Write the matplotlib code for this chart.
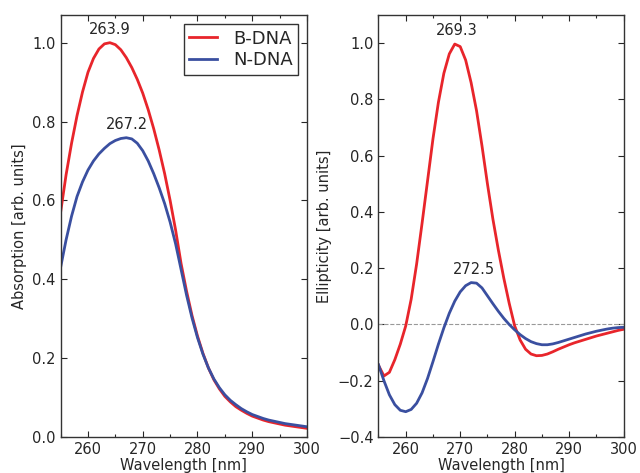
import numpy as np
import matplotlib
matplotlib.use("Agg")
import matplotlib.pyplot as plt

# wavelength grid [nm]
wl = np.arange(255, 301)

# absorption
abs_b = [0.57, 0.665, 0.745, 0.815, 0.875, 0.925, 0.96, 0.984, 0.997, 1.0,
         0.995, 0.982, 0.962, 0.937, 0.907, 0.872, 0.83, 0.782, 0.728, 0.668,
         0.60, 0.525, 0.44, 0.37, 0.308, 0.256, 0.212, 0.175, 0.145, 0.122,
         0.103, 0.089, 0.077, 0.068, 0.060, 0.053, 0.048, 0.043, 0.039, 0.036,
         0.033, 0.030, 0.028, 0.026, 0.024, 0.022]
abs_n = [0.43, 0.50, 0.56, 0.61, 0.647, 0.677, 0.70, 0.718, 0.732, 0.744,
         0.752, 0.757, 0.759, 0.756, 0.745, 0.726, 0.70, 0.668, 0.632, 0.592,
         0.545, 0.49, 0.425, 0.36, 0.302, 0.252, 0.21, 0.175, 0.147, 0.125,
         0.107, 0.093, 0.082, 0.072, 0.064, 0.057, 0.052, 0.047, 0.043, 0.040,
         0.037, 0.034, 0.032, 0.030, 0.028, 0.026]

# circular dichroism (ellipticity)
cd_b = [-0.145, -0.183, -0.17, -0.125, -0.07, -0.005, 0.09, 0.215, 0.36, 0.51,
        0.66, 0.79, 0.893, 0.962, 0.997, 0.988, 0.94, 0.86, 0.76, 0.635,
        0.50, 0.375, 0.265, 0.165, 0.075, -0.005, -0.055, -0.088, -0.105, -0.111,
        -0.11, -0.105, -0.097, -0.088, -0.08, -0.072, -0.065, -0.059, -0.053, -0.047,
        -0.041, -0.036, -0.031, -0.026, -0.021, -0.017]
cd_n = [-0.143, -0.2, -0.25, -0.285, -0.305, -0.31, -0.302, -0.28, -0.243, -0.192,
        -0.132, -0.07, -0.012, 0.04, 0.083, 0.116, 0.138, 0.149, 0.147, 0.13,
        0.102, 0.074, 0.047, 0.022, 0.0, -0.019, -0.036, -0.05, -0.061, -0.068,
        -0.072, -0.072, -0.069, -0.064, -0.058, -0.052, -0.046, -0.040, -0.034, -0.029,
        -0.024, -0.020, -0.016, -0.013, -0.011, -0.010]

abs_peaks = [(263.9, 1.0), (267.2, 0.759)]
cd_peaks = [(269.3, 1.0), (272.5, 0.149)]

red = '#e8252b'
blue = '#3a4fa0'
txt = '#262626'

plt.rcParams['font.family'] = 'DejaVu Sans'
plt.rcParams['text.color'] = txt
plt.rcParams['axes.labelcolor'] = txt
plt.rcParams['xtick.color'] = txt
plt.rcParams['ytick.color'] = txt

fig = plt.figure(figsize=(6.4, 4.73), dpi=100)
ax1 = fig.add_axes([0.0947, 0.0761, 0.385, 0.892])
ax2 = fig.add_axes([0.5914, 0.0761, 0.383, 0.892])

ax1.plot(wl, abs_b, color=red, lw=2, label='B-DNA')
ax1.plot(wl, abs_n, color=blue, lw=2, label='N-DNA')
for x, y in abs_peaks:
    ax1.text(x, y + 0.015, '%.1f' % x, ha='center', va='bottom', fontsize=10.5)
ax1.set_ylim(0, 1.07)
ax1.set_ylabel('Absorption [arb. units]', fontsize=10.5)
leg = ax1.legend(loc='upper right', fontsize=13, fancybox=False, framealpha=1,
                 handlelength=1.5, borderpad=0.3, handletextpad=0.9,
                 labelspacing=0.2, borderaxespad=0.5)
leg.get_frame().set_edgecolor('#333333')
leg.get_frame().set_linewidth(1.0)

ax2.axhline(0, color='#999999', lw=0.8, ls='--')
ax2.plot(wl, cd_b, color=red, lw=2)
ax2.plot(wl, cd_n, color=blue, lw=2)
for x, y in cd_peaks:
    ax2.text(x, y + 0.02, '%.1f' % x, ha='center', va='bottom', fontsize=10.5)
ax2.set_ylim(-0.4, 1.1)
ax2.set_yticks(np.arange(-0.4, 1.01, 0.2))
ax2.set_ylabel('Ellipticity [arb. units]', fontsize=10.5)

for ax in (ax1, ax2):
    ax.set_xlim(255, 300)
    ax.set_xticks([260, 270, 280, 290, 300])
    ax.set_xticks([255, 265, 275, 285, 295], minor=True)
    ax.set_xlabel('Wavelength [nm]', fontsize=10.5, labelpad=1)
    ax.tick_params(direction='in', top=True, right=True, labelsize=10.5, length=4, width=0.8)
    ax.tick_params(which='minor', direction='in', top=True, length=2, width=0.8)
    for s in ax.spines.values():
        s.set_color('#333333')
        s.set_linewidth(1.0)

fig.savefig('out.png', dpi=100)
